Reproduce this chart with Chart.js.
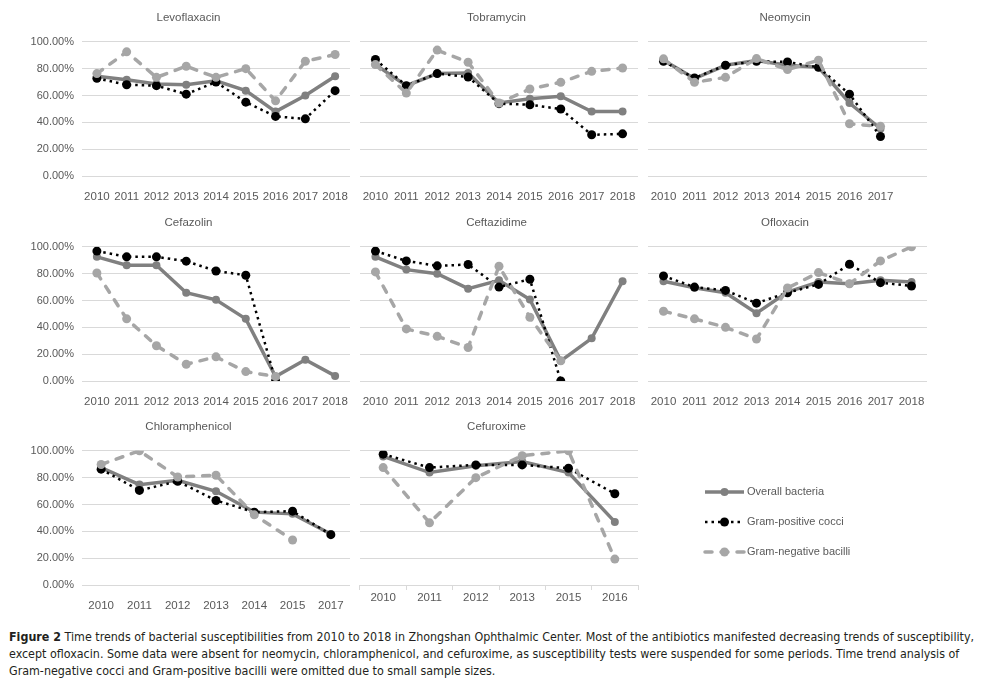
<!DOCTYPE html>
<html>
<head>
<meta charset="utf-8">
<script src="https://cdn.jsdelivr.net/npm/chart.js@4.4.1/dist/chart.umd.min.js"></script>
<style>
  body { margin:0; background:#fff; width:985px; height:697px; position:relative; overflow:hidden; font-family:"Liberation Sans", Arial, sans-serif; }
  canvas.panel { position:absolute; }
  #legend { position:absolute; left:690px; top:470px; }
  #caption { position:absolute; left:9px; top:629px; line-height:17px; white-space:nowrap; color:#231f20;
    font-family:"Liberation Sans Narrow", "DejaVu Sans Condensed", sans-serif; font-size:13px; }
  #caption b { font-weight:bold; }
</style>
</head>
<body>
<canvas id="levo" class="panel"></canvas>
<canvas id="tobra" class="panel"></canvas>
<canvas id="neo" class="panel"></canvas>
<canvas id="cefaz" class="panel"></canvas>
<canvas id="ceftaz" class="panel"></canvas>
<canvas id="oflox" class="panel"></canvas>
<canvas id="chlor" class="panel"></canvas>
<canvas id="cefur" class="panel"></canvas>
<canvas id="legend" width="240" height="100"></canvas>
<div id="caption"><span id="cap1"><b>Figure 2</b> Time trends of bacterial susceptibilities from 2010 to 2018 in Zhongshan Ophthalmic Center. Most of the antibiotics manifested decreasing trends of susceptibility,</span><br>except ofloxacin. Some data were absent for neomycin, chloramphenicol, and cefuroxime, as susceptibility tests were suspended for some periods. Time trend analysis of<br>Gram-negative cocci and Gram-positive bacilli were omitted due to small sample sizes.</div>
<script>
// categories
const years = ['2010', '2011', '2012', '2013', '2014', '2015', '2016', '2017', '2018'];
const neoYears = ['2010', '2011', '2012', '2013', '2014', '2015', '2016', '2017', ''];
const chlorYears = ['2010', '2011', '2012', '2013', '2014', '2015', '2017'];
const cefurYears = ['2010', '2011', '2012', '2013', '2015', '2016'];

const yTicks = [0, 20, 40, 60, 80, 100];
const seriesNames = ['Overall bacteria', 'Gram-positive cocci', 'Gram-negative bacilli'];

// values in percent
const levoOverall = [74.3, 71.8, 68.6, 68, 71, 63.6, 48, 60, 74.3];
const levoGP = [72.8, 68, 67.3, 61, 70, 55, 44.4, 42.6, 63.6];
const levoGN = [76.3, 92.5, 73.5, 81.8, 73.5, 80, 56, 85.5, 90.5];

const tobraOverall = [83, 67.3, 76.3, 76.8, 54.4, 57.6, 59.4, 48.1, 48.1];
const tobraGP = [86.8, 67.3, 76.3, 73.8, 53.9, 53.1, 49.9, 30.7, 31.4];
const tobraGN = [83, 61.8, 93.8, 84.8, 54.4, 64.8, 69.8, 78, 80.5];

const neoOverall = [86.3, 72.6, 82.5, 86, 82.5, 81, 54.4, 35.2, null];
const neoGP = [85.5, 73, 82.5, 85.5, 85, 81, 61, 29.4, null];
const neoGN = [87.3, 69.8, 73.5, 87.5, 79.3, 86.3, 38.9, 37, null];

const cefazOverall = [92.5, 86.3, 86.3, 65.8, 60.5, 46.3, 3.3, 15.8, 3.8];
const cefazGP = [96.8, 92.5, 92.5, 89.3, 82, 78.8, 0, null, null];
const cefazGN = [80.5, 46.3, 26.3, 12.5, 18, 7, 3.3, null, null];

const ceftazOverall = [92.5, 83, 80, 68.8, 75, 60.8, 15, 31.8, 74.3];
const ceftazGP = [96.8, 89.5, 85.8, 86.8, 70, 75.8, 0, null, null];
const ceftazGN = [81.3, 38.8, 33.3, 25, 85.5, 47.5, 15, null, null];

const ofloxOverall = [74.3, 69.5, 65.8, 50.5, 66.3, 73.8, 72.5, 75, 73.8];
const ofloxGP = [78.3, 70, 67.5, 58, 65.8, 72, 87, 73.3, 70.8];
const ofloxGN = [52, 46.3, 40, 31.3, 69.3, 80.8, 72.5, 89.5, 100];

const chlorOverall = [87.5, 74.8, 78, 69.8, 54.3, 53, 38];
const chlorGP = [86.3, 70.5, 77.3, 63, 54.3, 55, 37.5];
const chlorGN = [89.8, 100, 80.5, 81.8, 52.3, 33.5, null];

const cefurOverall = [95.8, 83.8, 88.8, 92, 83.8, 47];
const cefurGP = [97.5, 87.5, 89.5, 89.5, 87, 68];
const cefurGN = [87.5, 46.3, 80, 96.3, 100, 19.3];

const textColor = '#595959';
const gridColor = '#d9d9d9';
const overallColor = '#808080';
const gnColor = '#a6a6a6';

// column / row placement of each panel
const cols = [
  { left: 27, width: 328, yWidth: 55, right: 5, showY: true },
  { left: 355, width: 290, yWidth: 5, right: 7, showY: false },
  { left: 643, width: 290, yWidth: 5, right: 6, showY: false }
];
const rows = [0, 205, 409];

const panels = [
  { id: 'levo', title: 'Levoflaxacin', labels: years, data: [levoOverall, levoGP, levoGN], col: 0, row: 0 },
  { id: 'tobra', title: 'Tobramycin', labels: years, data: [tobraOverall, tobraGP, tobraGN], col: 1, row: 0 },
  { id: 'neo', title: 'Neomycin', labels: neoYears, data: [neoOverall, neoGP, neoGN], col: 2, row: 0 },
  { id: 'cefaz', title: 'Cefazolin', labels: years, data: [cefazOverall, cefazGP, cefazGN], col: 0, row: 1 },
  { id: 'ceftaz', title: 'Ceftazidime', labels: years, data: [ceftazOverall, ceftazGP, ceftazGN], col: 1, row: 1 },
  { id: 'oflox', title: 'Ofloxacin', labels: years, data: [ofloxOverall, ofloxGP, ofloxGN], col: 2, row: 1 },
  { id: 'chlor', title: 'Chloramphenicol', labels: chlorYears, data: [chlorOverall, chlorGP, chlorGN], col: 0, row: 2 },
  { id: 'cefur', title: 'Cefuroxime', labels: cefurYears, data: [cefurOverall, cefurGP, cefurGN], col: 1, row: 2, xTicks: true }
];

function makeDatasets(d) {
  return [
    {
      label: seriesNames[0], data: d[0], order: 3,
      borderColor: overallColor, backgroundColor: overallColor, borderWidth: 3.5,
      pointRadius: 4, pointBorderWidth: 0, pointBackgroundColor: overallColor
    },
    {
      label: seriesNames[1], data: d[1], order: 2,
      borderColor: '#000', backgroundColor: '#000', borderWidth: 2.5, borderDash: [2.5, 4],
      pointRadius: 4.5, pointBorderWidth: 0, pointBackgroundColor: '#000'
    },
    {
      label: seriesNames[2], data: d[2], order: 1,
      borderColor: gnColor, backgroundColor: gnColor, borderWidth: 3.5, borderDash: [7, 9], borderCapStyle: 'round',
      pointRadius: 4.5, pointBorderWidth: 0, pointBackgroundColor: gnColor
    }
  ];
}

panels.forEach(p => {
  const c = cols[p.col];
  const el = document.getElementById(p.id);
  el.width = c.width;
  el.height = 200;
  el.style.left = c.left + 'px';
  el.style.top = rows[p.row] + 'px';

  new Chart(el, {
    type: 'line',
    data: { labels: p.labels, datasets: makeDatasets(p.data) },
    options: {
      responsive: false,
      animation: false,
      layout: { padding: { left: 0, right: c.right, top: 0, bottom: 0 } },
      plugins: {
        legend: { display: false },
        tooltip: { enabled: false },
        title: {
          display: true, text: p.title, color: textColor,
          font: { family: 'Liberation Sans', size: 11.5, weight: 'normal' },
          padding: { top: 11, bottom: 17 }
        }
      },
      scales: {
        x: {
          offset: true,
          border: { display: false },
          grid: p.xTicks
            ? { display: true, offset: true, drawOnChartArea: false, drawTicks: true, tickLength: 5, color: gridColor }
            : { display: false },
          ticks: {
            color: textColor, font: { family: 'Liberation Sans', size: 11.5 },
            padding: p.xTicks ? 1 : 6, maxRotation: 0, autoSkip: false
          },
          afterFit: s => { s.height = 24; }
        },
        y: {
          min: 0, max: 100,
          border: { display: false },
          grid: { color: gridColor, drawTicks: false },
          afterBuildTicks: s => { s.ticks = yTicks.map(v => ({ value: v })); },
          ticks: {
            display: c.showY, color: textColor, font: { family: 'Liberation Sans', size: 11 },
            padding: 8, callback: v => v.toFixed(2) + '%'
          },
          afterFit: s => { s.width = c.yWidth; }
        }
      }
    }
  });
});

// legend in the empty ninth cell
(function drawLegend() {
  const ctx = document.getElementById('legend').getContext('2d');
  const x0 = 15, x1 = 54, xm = 34.5;
  const ys = [22, 52, 82];
  const styles = [
    { color: overallColor, width: 3.5, dash: [], cap: 'butt', r: 4 },
    { color: '#000', width: 2.5, dash: [2.5, 4], cap: 'butt', r: 4.5 },
    { color: gnColor, width: 3.5, dash: [7, 9], cap: 'round', r: 4.5 }
  ];
  styles.forEach((s, i) => {
    ctx.save();
    ctx.strokeStyle = s.color;
    ctx.lineWidth = s.width;
    ctx.setLineDash(s.dash);
    ctx.lineCap = s.cap;
    ctx.beginPath();
    ctx.moveTo(x0, ys[i]);
    ctx.lineTo(x1, ys[i]);
    ctx.stroke();
    ctx.fillStyle = s.color;
    ctx.beginPath();
    ctx.arc(xm, ys[i], s.r, 0, Math.PI * 2);
    ctx.fill();
    ctx.restore();
    ctx.fillStyle = textColor;
    ctx.font = '11px "Liberation Sans"';
    ctx.textBaseline = 'middle';
    ctx.fillText(seriesNames[i], 57, ys[i]);
  });
})();

// fit caption width to the figure
(function fitCaption() {
  const cap = document.getElementById('caption');
  const w = document.getElementById('cap1').offsetWidth;
  cap.style.fontSize = (13 * 966 / w).toFixed(2) + 'px';
})();
</script>
</body>
</html>
